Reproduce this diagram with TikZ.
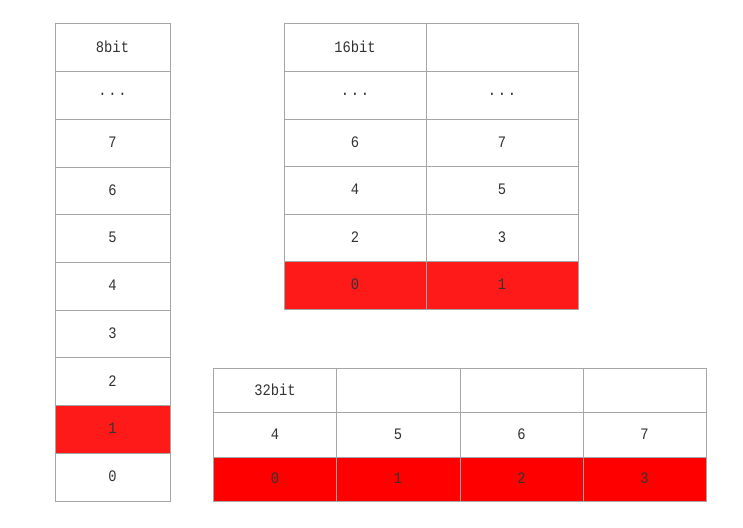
\documentclass[tikz,border=0pt]{standalone}
\usepackage{fontspec}
\setmainfont{Liberation Mono}
\definecolor{gridgray}{HTML}{A6A6A6}
\definecolor{txt}{HTML}{333333}
\definecolor{redA}{HTML}{FF1A1A}
\definecolor{redB}{HTML}{FF0000}
\newcommand{\mydots}{.\hspace{2pt}.\hspace{2pt}.}
\tikzset{
  cell/.style={draw=gridgray, line width=1pt, fill=white},
  redcellA/.style={draw=gridgray, line width=1pt, fill=redA},
  redcellB/.style={draw=gridgray, line width=1pt, fill=redB},
  lbl/.style={text=txt, font=\fontsize{16}{17}\selectfont, xscale=0.86, inner sep=0pt, anchor=center}
}
\begin{document}
\begin{tikzpicture}[x=1pt,y=-1pt]
\useasboundingbox (0,0) rectangle (743,527);
% 8bit column
\foreach \i/\t/\s in {0/8bit/cell,1/\mydots/cell,2/7/cell,3/6/cell,4/5/cell,5/4/cell,6/3/cell,7/2/cell,8/1/redcellA,9/0/cell}{
  \pgfmathsetmacro{\ya}{24+\i*47.7}
  \pgfmathsetmacro{\yb}{24+(\i+1)*47.7}
  \draw[\s] (55,\ya) rectangle (170,\yb);
  \node[lbl] (a\i) at (112.5,{(\ya+\yb)/2-1}) {\t};
}
% 16bit table
\foreach \i/\l/\r/\s in {0/16bit//cell,1/\mydots/\mydots/cell,2/6/7/cell,3/4/5/cell,4/2/3/cell,5/0/1/redcellA}{
  \pgfmathsetmacro{\ya}{24+\i*47.5}
  \pgfmathsetmacro{\yb}{24+(\i+1)*47.5}
  \draw[\s] (284,\ya) rectangle (426,\yb);
  \draw[\s] (426,\ya) rectangle (578,\yb);
  \node[lbl] (bl\i) at (355,{(\ya+\yb)/2-1}) {\l};
  \node[lbl] (br\i) at (502,{(\ya+\yb)/2-1}) {\r};
}
% 32bit table
\foreach \i/\ya/\yb/\s in {0/368/412.5/cell,1/412.5/457/cell,2/457/501.5/redcellB}{
  \draw[\s] (213,\ya) rectangle (336.5,\yb);
  \draw[\s] (336.5,\ya) rectangle (460,\yb);
  \draw[\s] (460,\ya) rectangle (583,\yb);
  \draw[\s] (583,\ya) rectangle (706,\yb);
}
\node[lbl] (c00) at (275,389.5) {32bit};
\node[lbl] (c10) at (275,434) {4};
\node[lbl] (c11) at (398,434) {5};
\node[lbl] (c12) at (521.5,434) {6};
\node[lbl] (c13) at (644.5,434) {7};
\node[lbl] (c20) at (275,478.5) {0};
\node[lbl] (c21) at (398,478.5) {1};
\node[lbl] (c22) at (521.5,478.5) {2};
\node[lbl] (c23) at (644.5,478.5) {3};
\end{tikzpicture}
\end{document}
